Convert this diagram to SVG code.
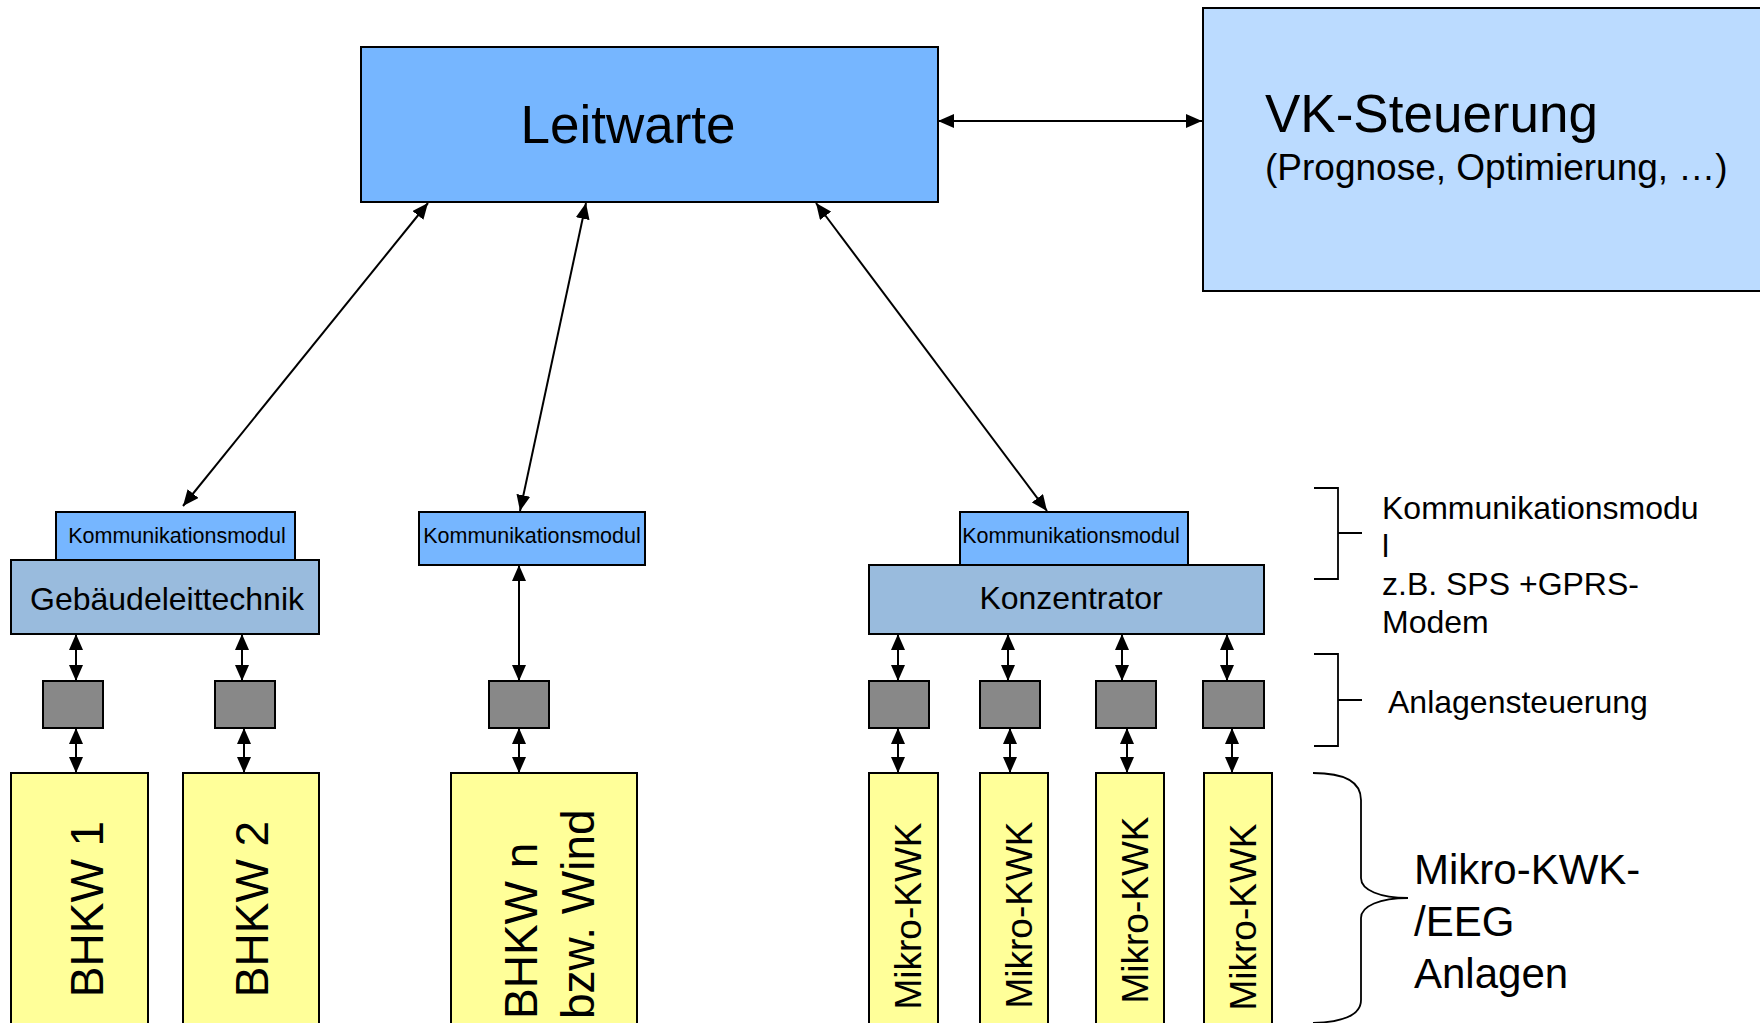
<svg xmlns="http://www.w3.org/2000/svg" width="1760" height="1023" viewBox="0 0 1760 1023">
<defs>
<marker id="ah" viewBox="0 0 16 14" refX="16" refY="7" markerWidth="16" markerHeight="14" markerUnits="userSpaceOnUse" orient="auto-start-reverse">
<path d="M0,0 L16,7 L0,14 z" fill="#000"/>
</marker>
<style>
text{font-family:"Liberation Sans",Arial,sans-serif;fill:#000}
.box{stroke:#000;stroke-width:2}
.lw{fill:#76B6FF}
.vk{fill:#BBDBFF}
.mid{fill:#99BBDD}
.gr{fill:#888888}
.ye{fill:#FFFF99}
.con{stroke:#000;stroke-width:2;fill:none;marker-start:url(#ah);marker-end:url(#ah)}
.br{stroke:#000;stroke-width:1.8;fill:none}
.km{font-size:21.5px;text-anchor:middle}
.rot{font-size:46px}
.mk{font-size:37px;text-anchor:middle}
.side{font-size:32px}
</style>
</defs>

<g id="connectors">
<line class="con" x1="938" y1="121" x2="1202" y2="121"/>
<line class="con" x1="428" y1="203" x2="183" y2="506"/>
<line class="con" x1="586" y1="203" x2="520" y2="511"/>
<line class="con" x1="816" y1="203" x2="1047" y2="511"/>
<line class="con" x1="519" y1="565" x2="519" y2="681"/>
<line class="con" x1="76" y1="634" x2="76" y2="681"/>
<line class="con" x1="242" y1="634" x2="242" y2="681"/>
<line class="con" x1="898" y1="634" x2="898" y2="681"/>
<line class="con" x1="1008" y1="634" x2="1008" y2="681"/>
<line class="con" x1="1122" y1="634" x2="1122" y2="681"/>
<line class="con" x1="1227" y1="634" x2="1227" y2="681"/>
<line class="con" x1="76" y1="728" x2="76" y2="773"/>
<line class="con" x1="244" y1="728" x2="244" y2="773"/>
<line class="con" x1="519" y1="728" x2="519" y2="773"/>
<line class="con" x1="898" y1="728" x2="898" y2="773"/>
<line class="con" x1="1010" y1="728" x2="1010" y2="773"/>
<line class="con" x1="1127" y1="728" x2="1127" y2="773"/>
<line class="con" x1="1232" y1="728" x2="1232" y2="773"/>
</g>

<g id="leitwarte">
<rect class="box lw" x="361" y="47" width="577" height="155"/>
<text x="628" y="143" font-size="53" text-anchor="middle">Leitwarte</text>
</g>

<g id="vk-steuerung">
<rect class="box vk" x="1203" y="8" width="570" height="283"/>
<text x="1265" y="132" font-size="53">VK-Steuerung</text>
<text x="1265" y="180" font-size="37">(Prognose, Optimierung, …)</text>
</g>

<g id="km-left">
<rect class="box lw" x="56" y="512" width="239" height="48"/>
<text class="km" x="177" y="543">Kommunikationsmodul</text>
</g>
<g id="gebaeudeleittechnik">
<rect class="box mid" x="11" y="560" width="308" height="74"/>
<text x="167" y="610" font-size="32" text-anchor="middle">Gebäudeleittechnik</text>
</g>

<g id="km-middle">
<rect class="box lw" x="419" y="512" width="226" height="53"/>
<text class="km" x="532" y="543">Kommunikationsmodul</text>
</g>

<g id="km-right">
<rect class="box lw" x="960" y="512" width="228" height="53"/>
<text class="km" x="1071" y="543">Kommunikationsmodul</text>
</g>
<g id="konzentrator">
<rect class="box mid" x="869" y="565" width="395" height="69"/>
<text x="1071" y="609" font-size="32" text-anchor="middle">Konzentrator</text>
</g>

<g id="ctrl-1"><rect class="box gr" x="43" y="681" width="60" height="47"/></g>
<g id="ctrl-2"><rect class="box gr" x="215" y="681" width="60" height="47"/></g>
<g id="ctrl-3"><rect class="box gr" x="489" y="681" width="60" height="47"/></g>
<g id="ctrl-4"><rect class="box gr" x="869" y="681" width="60" height="47"/></g>
<g id="ctrl-5"><rect class="box gr" x="980" y="681" width="60" height="47"/></g>
<g id="ctrl-6"><rect class="box gr" x="1096" y="681" width="60" height="47"/></g>
<g id="ctrl-7"><rect class="box gr" x="1203" y="681" width="61" height="47"/></g>

<g id="bhkw-1">
<rect class="box ye" x="11" y="773" width="137" height="270"/>
<text class="rot" text-anchor="middle" transform="translate(102.5,909) rotate(-90)">BHKW 1</text>
</g>
<g id="bhkw-2">
<rect class="box ye" x="183" y="773" width="136" height="270"/>
<text class="rot" text-anchor="middle" transform="translate(268,909) rotate(-90)">BHKW 2</text>
</g>
<g id="bhkw-n">
<rect class="box ye" x="451" y="773" width="186" height="270"/>
<text class="rot" transform="translate(537,1019) rotate(-90)">BHKW n</text>
<text class="rot" transform="translate(594,1019) rotate(-90)">bzw. Wind</text>
</g>
<g id="mikro-1">
<rect class="box ye" x="869" y="773" width="69" height="270"/>
<text class="mk" transform="translate(921,916) rotate(-90)">Mikro-KWK</text>
</g>
<g id="mikro-2">
<rect class="box ye" x="980" y="773" width="68" height="270"/>
<text class="mk" transform="translate(1032,915) rotate(-90)">Mikro-KWK</text>
</g>
<g id="mikro-3">
<rect class="box ye" x="1096" y="773" width="68" height="270"/>
<text class="mk" transform="translate(1148,910) rotate(-90)">Mikro-KWK</text>
</g>
<g id="mikro-4">
<rect class="box ye" x="1204" y="773" width="68" height="270"/>
<text class="mk" transform="translate(1256,917) rotate(-90)">Mikro-KWK</text>
</g>

<g id="legend-km">
<path class="br" d="M1314,488 H1338 V579 H1314 M1338,533 H1362"/>
<text class="side" x="1382" y="519">Kommunikationsmodu</text>
<text class="side" x="1382" y="557">l</text>
<text class="side" x="1382" y="595">z.B. SPS +GPRS-</text>
<text class="side" x="1382" y="633">Modem</text>
</g>
<g id="legend-anlagensteuerung">
<path class="br" d="M1314,654 H1338 V746 H1314 M1338,700 H1362"/>
<text class="side" x="1388" y="713">Anlagensteuerung</text>
</g>
<g id="legend-anlagen">
<path class="br" d="M1313,773 C1346,773 1361,782 1361,800 V878 C1361,890 1380,898 1408,898 C1380,898 1361,906 1361,918 V1000 C1361,1014 1346,1022 1313,1023"/>
<text x="1414" y="884" font-size="42">Mikro-KWK-</text>
<text x="1414" y="936" font-size="42">/EEG</text>
<text x="1414" y="988" font-size="42">Anlagen</text>
</g>
</svg>
